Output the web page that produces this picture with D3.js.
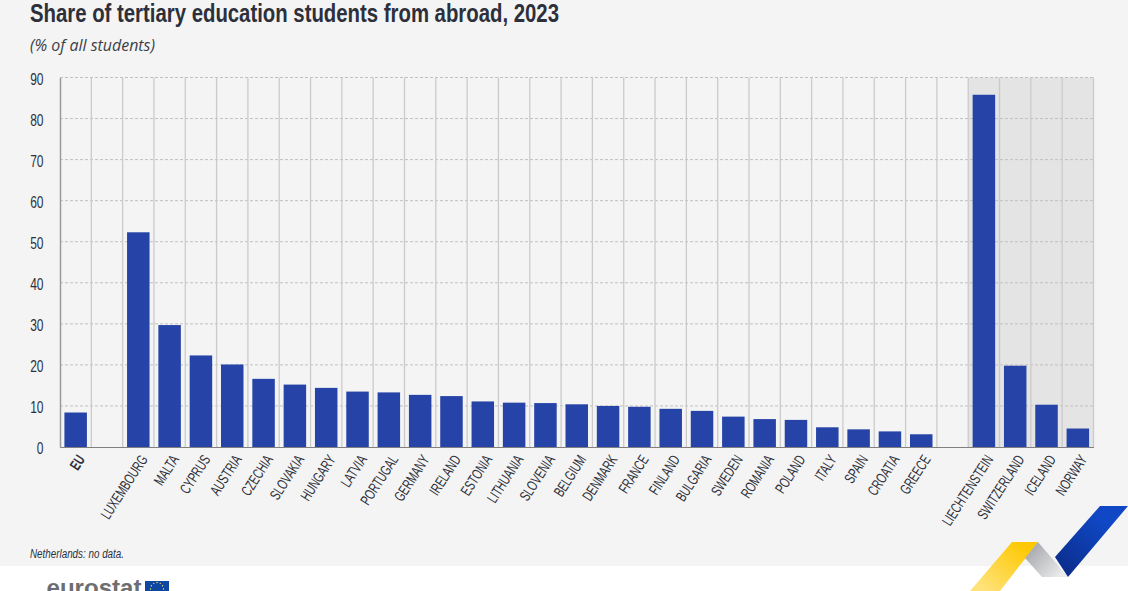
<!DOCTYPE html>
<html>
<head>
<meta charset="utf-8">
<script src="https://cdn.jsdelivr.net/npm/d3@7"></script>
<style>
    html, body { margin: 0; padding: 0; background: #fff; overflow: hidden; }
    svg { display: block; font-family: "Liberation Sans", sans-serif; }
</style>
</head>
<body>
<svg></svg>
<script>
const width = 1128;
const height = 591;

// данные
const categories = ["EU", "", "LUXEMBOURG", "MALTA", "CYPRUS", "AUSTRIA", "CZECHIA", "SLOVAKIA", "HUNGARY", "LATVIA",
    "PORTUGAL", "GERMANY", "IRELAND", "ESTONIA", "LITHUANIA", "SLOVENIA", "BELGIUM", "DENMARK", "FRANCE", "FINLAND",
    "BULGARIA", "SWEDEN", "ROMANIA", "POLAND", "ITALY", "SPAIN", "CROATIA", "GREECE", " ",
    "LIECHTENSTEIN", "SWITZERLAND", "ICELAND", "NORWAY"];
const values = [8.4, null, 52.3, 29.7, 22.3, 20.1, 16.6, 15.2, 14.4, 13.5,
    13.3, 12.7, 12.4, 11.1, 10.8, 10.7, 10.4, 10.0, 9.8, 9.3,
    8.8, 7.4, 6.8, 6.6, 4.8, 4.3, 3.8, 3.1, null,
    85.8, 19.8, 10.3, 4.5];
const efta = ["LIECHTENSTEIN", "SWITZERLAND", "ICELAND", "NORWAY"];
const yTicks = [0, 10, 20, 30, 40, 50, 60, 70, 80, 90];

const svg = d3.select("svg")
    .attr("width", width)
    .attr("height", height);

// фон
svg.append("rect").attr("width", width).attr("height", 566).attr("fill", "#f4f4f4");

const x = d3.scaleBand().domain(categories).range([60, 1093.5]);
const y = d3.scaleLinear().domain([0, 90]).range([447, 77.5]);
const barWidth = 22.5;

// серая область
svg.selectAll("rect.efta")
    .data(efta)
    .join("rect")
    .attr("class", "efta")
    .attr("x", d => x(d))
    .attr("y", y(90))
    .attr("width", x.bandwidth())
    .attr("height", y(0) - y(90))
    .attr("fill", "#e4e4e4");

// сетка
svg.selectAll("line.hgrid")
    .data(yTicks.slice(1))
    .join("line")
    .attr("class", "hgrid")
    .attr("x1", 60).attr("x2", 1093.5)
    .attr("y1", d => y(d)).attr("y2", d => y(d))
    .attr("stroke", "#c0c0c0")
    .attr("stroke-dasharray", "3,2");

svg.selectAll("line.vgrid")
    .data(categories)
    .join("line")
    .attr("class", "vgrid")
    .attr("x1", d => x(d) + x.bandwidth()).attr("x2", d => x(d) + x.bandwidth())
    .attr("y1", y(90)).attr("y2", y(0))
    .attr("stroke", "#cbcbcb")
    .attr("stroke-width", 1.3);

// столбцы
svg.selectAll("rect.bar")
    .data(categories.map((c, i) => ({c: c, v: values[i]})).filter(d => d.v !== null))
    .join("rect")
    .attr("class", "bar")
    .attr("x", d => x(d.c) + (x.bandwidth() - barWidth) / 2)
    .attr("y", d => y(d.v))
    .attr("width", barWidth)
    .attr("height", d => y(0) - y(d.v))
    .attr("fill", "#2644a7");

// оси
const yAxis = d3.axisLeft(y).tickValues(yTicks).tickSize(0);
const gy = svg.append("g").attr("transform", "translate(60,0)").call(yAxis);
gy.select(".domain").attr("stroke", "#9a9a9a").attr("stroke-width", 1.5);
gy.selectAll("text")
    .attr("font-family", "'Liberation Sans', sans-serif")
    .attr("font-size", 16)
    .attr("fill", "#2d303b")
    .attr("text-anchor", "end")
    .attr("x", 0)
    .attr("transform", "translate(-16.5,1.5) scale(0.75,1)");

const xAxis = d3.axisBottom(x).tickSize(0).tickSizeOuter(0).tickPadding(0);
const gx = svg.append("g").attr("transform", `translate(0,${y(0)})`).call(xAxis);
gx.select(".domain").attr("stroke", "#808080").attr("stroke-width", 1.2);
gx.selectAll("text")
    .attr("font-family", "'Liberation Sans', sans-serif")
    .attr("font-size", 15)
    .attr("fill", "#2d303b")
    .attr("font-weight", d => d === "EU" ? "bold" : "normal")
    .attr("text-anchor", "end")
    .attr("transform", "translate(5.5,9.5) rotate(-57) scale(0.68,1)")
    .attr("y", 0)
    .attr("dy", "0.35em");

// заголовки
svg.append("text").attr("x", 30).attr("y", 22)
    .attr("font-size", 25.5).attr("font-weight", "bold").attr("fill", "#2d303b")
    .attr("textLength", 529).attr("lengthAdjust", "spacingAndGlyphs")
    .text("Share of tertiary education students from abroad, 2023");
svg.append("text").attr("x", 30).attr("y", 51)
    .attr("font-size", 16.5).attr("font-style", "italic").attr("fill", "#3c3f49")
    .attr("font-family", "'Open Sans', sans-serif")
    .attr("textLength", 125).attr("lengthAdjust", "spacingAndGlyphs")
    .text("(% of all students)");
svg.append("text").attr("x", 30).attr("y", 558)
    .attr("font-size", 12.5).attr("font-style", "italic").attr("fill", "#2d303b")
    .attr("textLength", 94).attr("lengthAdjust", "spacingAndGlyphs")
    .text("Netherlands: no data.");

// логотип eurostat
svg.append("text").attr("x", 46.5).attr("y", 596)
    .attr("font-size", 24).attr("font-weight", "bold").attr("fill", "#6d6e71")
    .attr("textLength", 95).attr("lengthAdjust", "spacingAndGlyphs")
    .text("eurostat");
svg.append("rect").attr("x", 145).attr("y", 581).attr("width", 24).attr("height", 10).attr("fill", "#0e47a1");
svg.selectAll("circle.star")
    .data(d3.range(12))
    .join("circle")
    .attr("class", "star")
    .attr("cx", i => 157 + 6.5 * Math.cos(i * Math.PI / 6))
    .attr("cy", i => 589 + 6.5 * Math.sin(i * Math.PI / 6))
    .attr("r", 0.7)
    .attr("fill", "#ffe14d");

// лента
const defs = svg.append("defs");
function gradient(id, x1, y1, x2, y2, from, to) {
    const g = defs.append("linearGradient").attr("id", id)
        .attr("gradientUnits", "userSpaceOnUse")
        .attr("x1", x1).attr("y1", y1).attr("x2", x2).attr("y2", y2);
    g.append("stop").attr("offset", 0).attr("stop-color", from);
    g.append("stop").attr("offset", 1).attr("stop-color", to);
}
gradient("gBlue", 1100, 520, 1060, 570, "#0f47c4", "#0b2d8c");
gradient("gGrey", 1030, 550, 1060, 577, "#a9abaf", "#ececec");
gradient("gYellow", 1025, 545, 985, 591, "#fdc800", "#ffe27a");

const ribbon = d3.line();
svg.append("path").attr("d", ribbon([[1012, 542], [1038, 542], [1000, 591], [970, 591]]) + "Z").attr("fill", "url(#gYellow)");
svg.append("path").attr("d", ribbon([[1038, 542], [1025, 558], [1042, 577], [1068, 577]]) + "Z").attr("fill", "url(#gGrey)");
svg.append("path").attr("d", ribbon([[1100, 506], [1128, 506], [1068, 577], [1055, 557]]) + "Z").attr("fill", "url(#gBlue)");
</script>
</body>
</html>
